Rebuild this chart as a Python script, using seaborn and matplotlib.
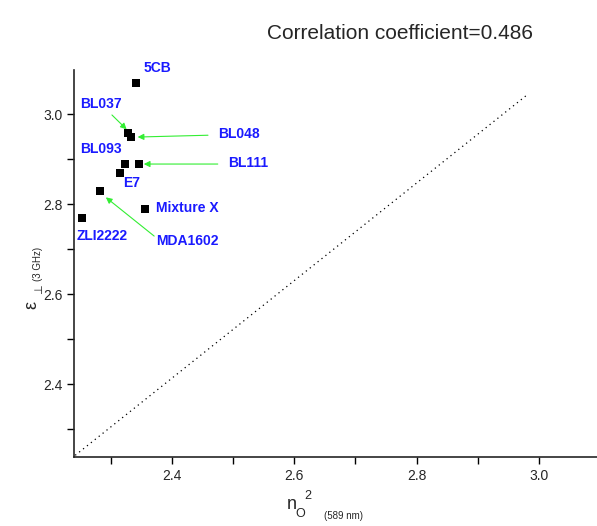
import pandas as pd
import seaborn as sns
import matplotlib.pyplot as plt
from matplotlib.ticker import MultipleLocator

# values
names = ['5CB', 'BL037', 'BL048', 'BL093', 'BL111', 'E7', 'MDA1602', 'Mixture X', 'ZLI2222']
n_o2 = [2.342, 2.329, 2.333, 2.323, 2.347, 2.315, 2.283, 2.356, 2.253]
eps_perp = [3.069, 2.959, 2.949, 2.889, 2.889, 2.869, 2.829, 2.789, 2.770]
fit_x = [2.242, 2.982]
fit_y = [2.242, 3.044]
title = 'Correlation coefficient=0.486'

df = pd.DataFrame({'name': names, 'n_o2': n_o2, 'eps': eps_perp})

sns.set_style('ticks')
plt.rcParams['font.family'] = ['Liberation Sans', 'DejaVu Sans']
plt.rcParams['mathtext.fontset'] = 'custom'
plt.rcParams['mathtext.rm'] = 'Liberation Sans'
plt.rcParams['mathtext.it'] = 'Liberation Sans'

fig = plt.figure(figsize=(5.97, 5.26), dpi=100)
ax = fig.add_axes([0.124, 0.131, 0.876, 0.736])

ax.plot(fit_x, fit_y, ls=(0, (1, 3)), color='black', lw=0.9)
sns.scatterplot(data=df, x='n_o2', y='eps', marker='s', color='black',
                s=40, edgecolor='black', linewidth=0, ax=ax, zorder=3)

# label text positions (data coords) and optional arrow start/end
labels = {
    '5CB': ((2.353, 3.102), None),
    'BL037': ((2.250, 3.022), ((2.302, 2.998), (2.326, 2.966))),
    'BL048': ((2.475, 2.956), ((2.459, 2.953), (2.344, 2.949))),
    'BL093': ((2.250, 2.922), None),
    'BL111': ((2.492, 2.891), ((2.475, 2.889), (2.354, 2.889))),
    'E7': ((2.320, 2.847), None),
    'Mixture X': ((2.374, 2.791), None),
    'ZLI2222': ((2.245, 2.729), None),
    'MDA1602': ((2.374, 2.718), ((2.371, 2.729), (2.292, 2.815))),
}
for name, (pos, arrow) in labels.items():
    ax.text(pos[0], pos[1], name, color='#1a1aff', fontweight='bold',
            fontsize=10, ha='left', va='center', clip_on=False)
    if arrow is not None:
        ax.annotate('', xy=arrow[1], xytext=arrow[0],
                    arrowprops=dict(arrowstyle='-|>', color='#33ee33', lw=0.8,
                                    mutation_scale=9, shrinkA=0, shrinkB=0))

ax.set_xlim(2.24, 3.095)
ax.set_ylim(2.238, 3.098)
ax.xaxis.set_major_locator(MultipleLocator(0.2))
ax.xaxis.set_minor_locator(MultipleLocator(0.1))
ax.yaxis.set_major_locator(MultipleLocator(0.2))
ax.yaxis.set_minor_locator(MultipleLocator(0.1))
ax.tick_params(which='both', direction='out', length=5, width=1, labelsize=10,
               color='black')
ax.set_xticks([2.4, 2.6, 2.8, 3.0])
ax.set_xticklabels(['2.4', '2.6', '2.8', '3.0'])
ax.set_yticks([2.4, 2.6, 2.8, 3.0])
ax.set_yticklabels(['2.4', '2.6', '2.8', '3.0'])
sns.despine(ax=ax)
for sp in ax.spines.values():
    sp.set_linewidth(1.2)
ax.set_xlabel('')
ax.set_ylabel('')

# axis titles
fig.text(0.488, 0.04, r'$\mathregular{n}$', fontsize=13, ha='center', va='center')
fig.text(0.503, 0.023, 'O', fontsize=9, ha='center', va='center')
fig.text(0.516, 0.057, '2', fontsize=9, ha='center', va='center')
fig.text(0.576, 0.019, '(589 nm)', fontsize=7, ha='center', va='center')

fig.text(0.054, 0.420, 'ε', fontsize=13, rotation=90, ha='center', va='center')
fig.text(0.066, 0.451, '⊥', fontsize=8, rotation=90, ha='center', va='center')
fig.text(0.064, 0.498, '(3 GHz)', fontsize=7, rotation=90, ha='center', va='center')

fig.text(0.67, 0.937, title, fontsize=15, ha='center', va='center')

fig.savefig('out.png', dpi=100)
